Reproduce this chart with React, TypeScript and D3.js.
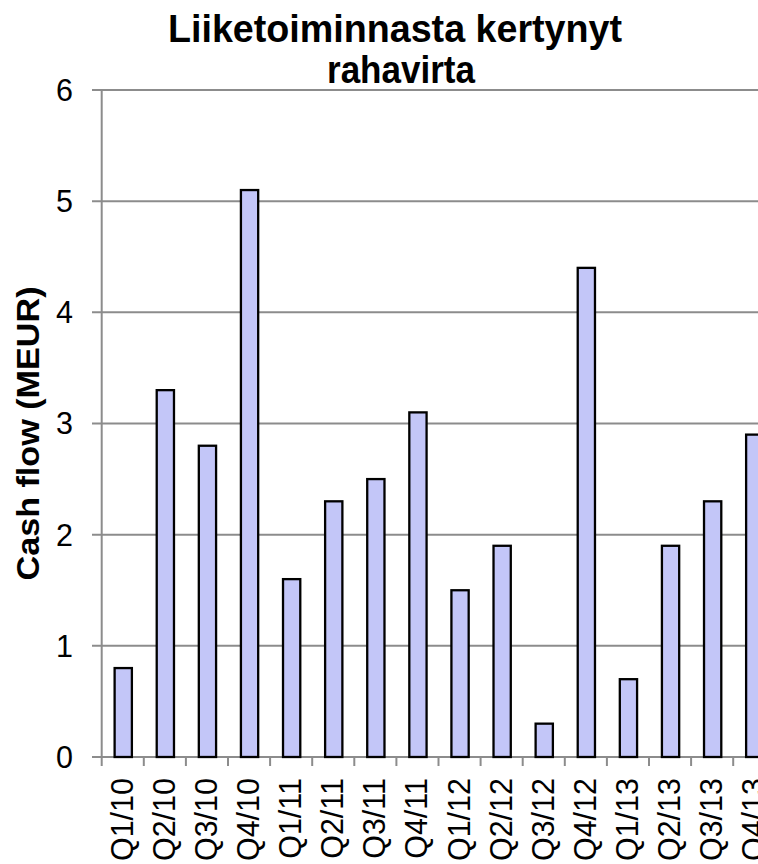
import React from "react";
import * as d3 from "d3";

const categories = ["Q1/10","Q2/10","Q3/10","Q4/10","Q1/11","Q2/11","Q3/11","Q4/11","Q1/12","Q2/12","Q3/12","Q4/12","Q1/13","Q2/13","Q3/13","Q4/13"];
const cashFlow = [0.8, 3.3, 2.8, 5.1, 1.6, 2.3, 2.5, 3.1, 1.5, 1.9, 0.3, 4.4, 0.7, 1.9, 2.3, 2.9];
const yTicks = [0, 1, 2, 3, 4, 5, 6];
const titleLines = ["Liiketoiminnasta kertynyt", "rahavirta"];
const yAxisLabel = "Cash flow (MEUR)";

const W = 758, H = 864;
const left = 101.7, top = 90, bottom = 757;
const step = 42.1;

export default function App() {
  const x = d3.scaleBand<string>().domain(categories).range([left, left + step * categories.length]).paddingInner(0).paddingOuter(0);
  const y = d3.scaleLinear().domain([0, 6]).range([bottom, top]);
  const barW = x.step() * 0.41;
  const font = "'Liberation Sans', Arial, sans-serif";
  const grid = "#8c8c8c";
  return (
    <svg width={W} height={H} style={{ position: "absolute", left: 0, top: 0, display: "block", background: "#fff" }} fontFamily={font}>
      <text x={395} y={42} textAnchor="middle" fontWeight="bold" fontSize={38} textLength={454} lengthAdjust="spacingAndGlyphs">{titleLines[0]}</text>
      <text x={401} y={83} textAnchor="middle" fontWeight="bold" fontSize={38} textLength={148} lengthAdjust="spacingAndGlyphs">{titleLines[1]}</text>
      {yTicks.map(t => (
        <g key={t}>
          <line x1={92} x2={W} y1={y(t)} y2={y(t)} stroke={grid} strokeWidth={2} />
          <text x={73} y={y(t)} dy="0.36em" textAnchor="end" fontSize={30.5}>{t}</text>
        </g>
      ))}
      <line x1={left} x2={left} y1={top} y2={bottom} stroke={grid} strokeWidth={2} />
      {categories.map((c, i) => (
        <line key={"t" + i} x1={x(c)!} x2={x(c)!} y1={bottom} y2={bottom + 9} stroke={grid} strokeWidth={2} />
      ))}
      <line x1={x(categories[categories.length - 1])! + x.step()} x2={x(categories[categories.length - 1])! + x.step()} y1={bottom} y2={bottom + 9} stroke={grid} strokeWidth={2} />
      {categories.map((c, i) => {
        const cx = x(c)! + x.bandwidth() / 2 + 0.5;
        return (
          <rect key={c} x={cx - barW / 2} y={y(cashFlow[i])} width={barW} height={y(0) - y(cashFlow[i])} fill="#c3c6f8" stroke="#000" strokeWidth={2.3} />
        );
      })}
      {categories.map(c => {
        const cx = x(c)! + x.bandwidth() / 2 - 1;
        return (
          <text key={"l" + c} transform={`translate(${cx},778) rotate(-90)`} textAnchor="end" dy="0.36em" fontSize={30.5}>{c}</text>
        );
      })}
      <text transform={`translate(28,${(top + bottom) / 2 + 10}) rotate(-90)`} textAnchor="middle" dy="0.36em" fontWeight="bold" fontSize={31} textLength={294} lengthAdjust="spacingAndGlyphs">{yAxisLabel}</text>
    </svg>
  );
}
